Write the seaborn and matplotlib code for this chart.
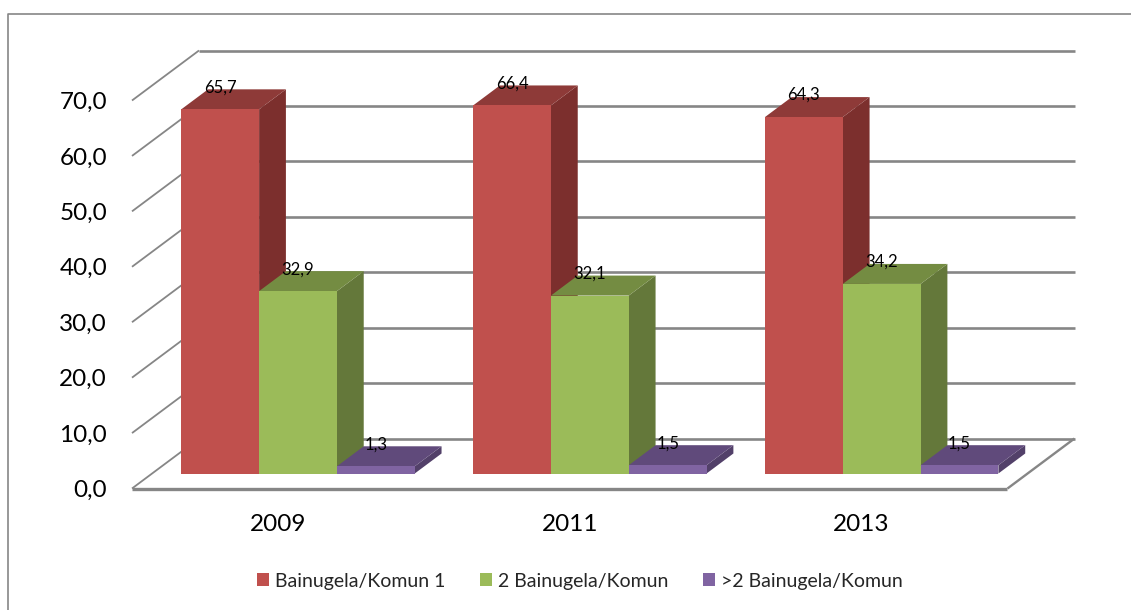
import matplotlib
matplotlib.use('Agg')
import pandas as pd
import seaborn as sns
import matplotlib.pyplot as plt
from matplotlib.patches import Polygon
from matplotlib.lines import Line2D

# values
years = ['2009', '2011', '2013']
komun_1 = [65.7, 66.4, 64.3]
komun_2 = [32.9, 32.1, 34.2]
komun_3 = [1.3, 1.5, 1.5]
series_names = ['Bainugela/Komun 1', '2 Bainugela/Komun', '>2 Bainugela/Komun']
y_ticks = [0, 10, 20, 30, 40, 50, 60, 70]

front_colors = ['#C0504D', '#9BBB59', '#8064A2']
top_colors = ['#8E3A38', '#748C42', '#604A7B']
side_colors = ['#7C2F2D', '#64783A', '#524069']
grey = '#868686'

W, H = 1131, 610
# front plane of the fake 3D box, in pixels
LEFT, RIGHT, BOTTOM, TOP = 132, 1007.5, 488.5, 100.5

df = pd.DataFrame({'year': years * 3,
                   'value': komun_1 + komun_2 + komun_3,
                   'serie': [s for s in series_names for _ in years]})

sns.set_theme(style='white')
plt.rcParams['font.family'] = ['Lato', 'DejaVu Sans']

fig = plt.figure(figsize=(W / 100, H / 100), dpi=100)
ax = fig.add_axes([LEFT / W, 1 - BOTTOM / H, (RIGHT - LEFT) / W, (BOTTOM - TOP) / H])
ax.patch.set_alpha(0)

sns.barplot(data=df, x='year', y='value', hue='serie', hue_order=series_names,
            palette=front_colors, width=0.8, saturation=1, gap=0, ax=ax, errorbar=None,
            linewidth=0)
ax.set_xlim(-0.5, 2.5)
ax.set_ylim(0, 70)

# depth of the box, in data units
px_x = 3 / (RIGHT - LEFT)
px_y = 70 / (BOTTOM - TOP)
depth_x = 67 * px_x
depth_y = 50 * px_y
bar_start = 0.3
bar_depth = 0.4


def line(xs, ys, lw):
    ax.add_line(Line2D(xs, ys, color=grey, lw=lw, clip_on=False, zorder=1,
                       solid_capstyle='butt'))


# walls and floor
for t in y_ticks:
    line([-0.5, -0.5 + depth_x], [t, t + depth_y], 1.3)
    line([-0.5 + depth_x, 2.5 + depth_x], [t + depth_y, t + depth_y], 1.9)
line([-0.5, 2.5], [0, 0], 2.4)
line([2.5, 2.5 + depth_x], [0, depth_y], 1.7)

# push the bars back and add side and top faces
order = 2
for i, cont in enumerate(ax.containers):
    for bar in cont:
        bar.set_x(bar.get_x() + bar_start * depth_x)
        bar.set_y(bar_start * depth_y)

bars = [(b, i) for i, cont in enumerate(ax.containers) for b in cont]
bars.sort(key=lambda p: p[0].get_x())
dx = bar_depth * depth_x
dy = bar_depth * depth_y
for bar, i in bars:
    x0 = bar.get_x()
    x1 = x0 + bar.get_width()
    y0 = bar.get_y()
    y1 = y0 + bar.get_height()
    ax.add_patch(Polygon([(x1, y0), (x1 + dx, y0 + dy), (x1 + dx, y1 + dy), (x1, y1)],
                         fc=side_colors[i], ec='none', zorder=order, clip_on=False))
    ax.add_patch(Polygon([(x0, y1), (x0 + dx, y1 + dy), (x1 + dx, y1 + dy), (x1, y1)],
                         fc=top_colors[i], ec='none', zorder=order + 0.1, clip_on=False))
    bar.set_zorder(order + 0.2)
    bar.set_clip_on(False)
    ax.text((x0 + x1) / 2, y1 + 22 * px_y, f'{bar.get_height():.1f}'.replace('.', ','),
            ha='center', va='center', fontsize=12, color='black', zorder=50)
    order += 1

ax.set_yticks(y_ticks, [f'{t:.1f}'.replace('.', ',') for t in y_ticks])
ax.tick_params(axis='y', length=0, pad=18, labelsize=17.5, colors='black')
ax.tick_params(axis='x', length=0, pad=18.5, labelsize=17.5, colors='black')
ax.set_xlabel('')
ax.set_ylabel('')
sns.despine(ax=ax, left=True, bottom=True)

sns.move_legend(ax, 'center', bbox_to_anchor=(580 / W, 1 - 581 / H),
                bbox_transform=fig.transFigure, ncols=3, title=None, frameon=False,
                fontsize=14, handlelength=0.62, handleheight=0.62,
                handletextpad=0.3, columnspacing=1.8)

# chart frame, only top and left show in the crop
fig.add_artist(Line2D([7.5 / W, 7.5 / W, 1], [0, 1 - 13.5 / H, 1 - 13.5 / H],
                      color=grey, lw=1.2, transform=fig.transFigure))

fig.savefig('out.png', dpi=100)
